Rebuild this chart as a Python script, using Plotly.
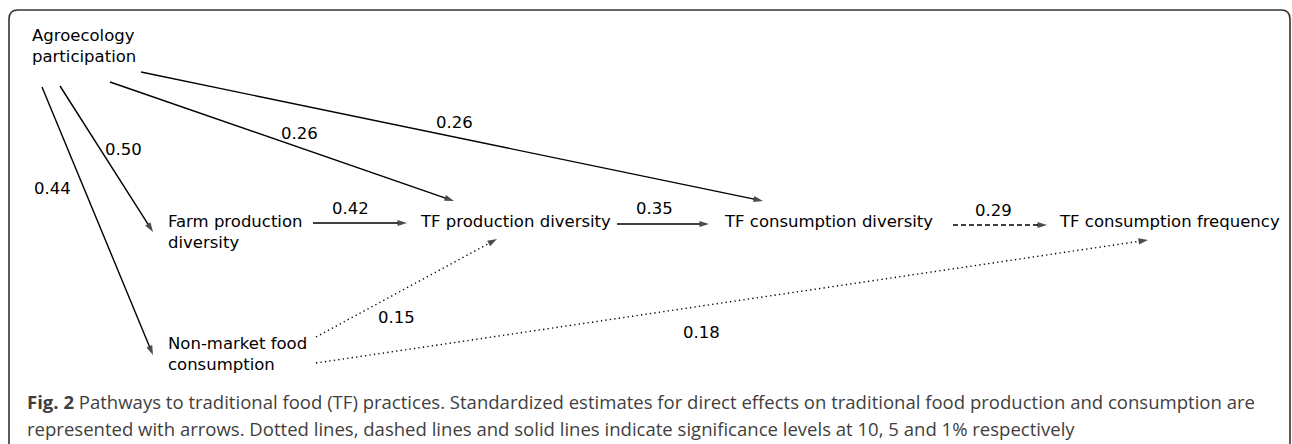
import plotly.graph_objects as go

# ---------------- data ----------------
node_names = [
    "Agroecology<br>participation",
    "Farm production<br>diversity",
    "TF production diversity",
    "TF consumption diversity",
    "TF consumption frequency",
    "Non-market food<br>consumption",
]
edge_source = [0, 0, 0, 0, 1, 2, 3, 5, 5]
edge_target = [3, 2, 1, 5, 2, 3, 4, 2, 4]
edge_coef = ["0.26", "0.26", "0.50", "0.44", "0.42", "0.35", "0.29", "0.15", "0.18"]
edge_signif = ["1%", "1%", "1%", "1%", "1%", "1%", "5%", "10%", "10%"]

caption_title = "Fig. 2"
caption_line1 = ("Pathways to traditional food (TF) practices. Standardized estimates for "
                 "direct effects on traditional food production and consumption are")
caption_line2 = ("represented with arrows. Dotted lines, dashed lines and solid lines "
                 "indicate significance levels at 10, 5 and 1% respectively")

# ---------------- layout (pixel space) ----------------
W, H = 1292, 444
node_x = [30, 166, 418, 722, 1057, 166]
node_y = [46, 232, 221, 221, 221, 354]

edge_x0 = [141, 110, 60, 42, 313, 617, 953, 316, 316]
edge_y0 = [72, 82, 86, 87, 223, 224, 225, 337, 363]
edge_x1 = [763, 454, 153, 153, 407, 709, 1047, 497, 1148]
edge_y1 = [201, 201, 232, 355, 223, 224, 225, 239, 240]
label_x = [454, 299, 123, 52, 350, 654, 993, 396, 701]
label_y = [122, 133, 149, 188, 208, 208, 210, 317, 332]

dash_for = {"1%": "solid", "5%": "5px,3px", "10%": "1.3px,3.2px"}

FONT = "DejaVu Sans"
FS = 16.5

fig = go.Figure()

for i in range(len(edge_coef)):
    fig.add_trace(go.Scatter(
        x=[edge_x0[i], edge_x1[i]],
        y=[edge_y0[i], edge_y1[i]],
        mode="lines+markers",
        line=dict(color="#000000", width=1.4, dash=dash_for[edge_signif[i]]),
        marker=dict(symbol="arrow", size=[0, 10], angleref="previous",
                    color="#000000", line=dict(width=0)),
        hoverinfo="skip",
        showlegend=False,
    ))
    fig.add_annotation(
        x=label_x[i], y=label_y[i], text=edge_coef[i], showarrow=False,
        xanchor="center", yanchor="middle",
        font=dict(family=FONT, size=FS, color="#000000"),
    )

for i, name in enumerate(node_names):
    fig.add_annotation(
        x=node_x[i], y=node_y[i], text=name, showarrow=False,
        xanchor="left", yanchor="middle", align="left",
        font=dict(family=FONT, size=FS, color="#000000"),
    )

# caption
fig.add_annotation(
    x=25, y=401, text=f"<b>{caption_title}</b> {caption_line1}", showarrow=False,
    xanchor="left", yanchor="middle", align="left",
    font=dict(family="Open Sans", size=18.55, color="#3f3f3f"),
)
fig.add_annotation(
    x=25, y=428, text=caption_line2, showarrow=False,
    xanchor="left", yanchor="middle", align="left",
    font=dict(family="Open Sans", size=18.55, color="#3f3f3f"),
)

# rounded frame
fig.add_shape(
    type="path",
    path="M 9,470 L 9,19 Q 9,10 18,10 L 1281,10 Q 1290,10 1290,19 L 1290,470",
    line=dict(color="#333333", width=1.6),
    xref="x", yref="y",
)

fig.update_layout(
    width=W, height=H,
    margin=dict(l=0, r=0, t=0, b=0),
    paper_bgcolor="white", plot_bgcolor="white",
    xaxis=dict(range=[0, W], visible=False, fixedrange=True),
    yaxis=dict(range=[H, 0], visible=False, fixedrange=True),
)

fig.write_html(
    "out.html",
    config={"displayModeBar": False},
    post_script="document.body.style.margin='0px';document.body.style.overflow='hidden';",
)
